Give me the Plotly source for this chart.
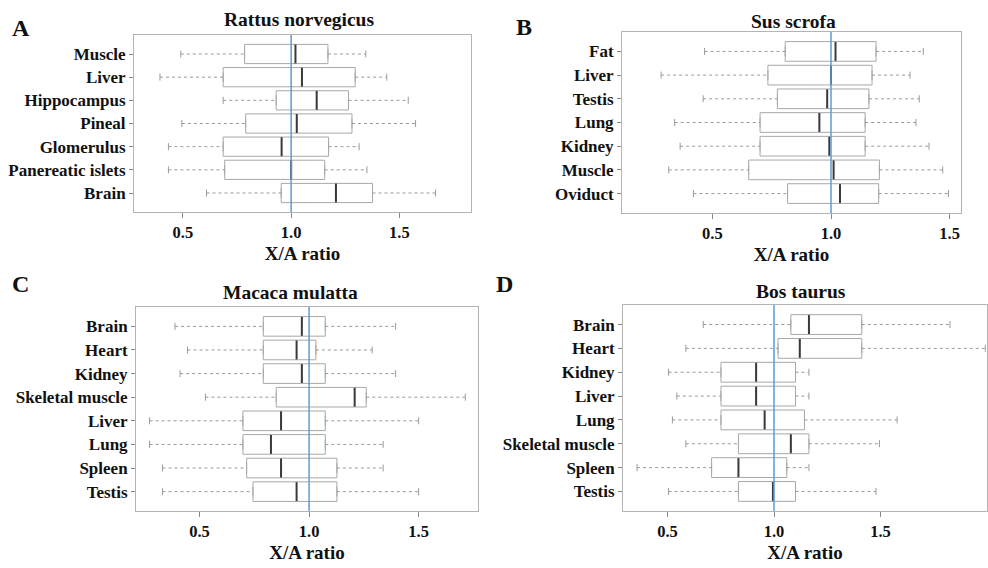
import plotly.graph_objects as go

# ---------------- data ----------------
A_title = "Rattus norvegicus"
A_cats = ["Muscle", "Liver", "Hippocampus", "Pineal", "Glomerulus", "Panereatic islets", "Brain"]
A_low = [0.49, 0.394, 0.686, 0.495, 0.433, 0.433, 0.609]
A_q1 = [0.785, 0.686, 0.931, 0.790, 0.686, 0.693, 0.954]
A_med = [1.02, 1.05, 1.118, 1.026, 0.956, 1.0, 1.207]
A_q3 = [1.17, 1.296, 1.265, 1.281, 1.173, 1.155, 1.376]
A_high = [1.345, 1.442, 1.541, 1.575, 1.314, 1.35, 1.667]

B_title = "Sus scrofa"
B_cats = ["Fat", "Liver", "Testis", "Lung", "Kidney", "Muscle", "Oviduct"]
B_low = [0.467, 0.284, 0.461, 0.341, 0.364, 0.316, 0.42]
B_q1 = [0.807, 0.734, 0.774, 0.701, 0.701, 0.653, 0.817]
B_med = [1.019, 1.0, 0.984, 0.951, 0.993, 1.011, 1.038]
B_q3 = [1.19, 1.173, 1.160, 1.144, 1.144, 1.204, 1.201]
B_high = [1.389, 1.333, 1.372, 1.358, 1.413, 1.471, 1.495]

C_title = "Macaca mulatta"
C_cats = ["Brain", "Heart", "Kidney", "Skeletal muscle", "Liver", "Lung", "Spleen", "Testis"]
C_low = [0.388, 0.445, 0.411, 0.527, 0.272, 0.272, 0.331, 0.331]
C_q1 = [0.791, 0.791, 0.791, 0.85, 0.698, 0.698, 0.715, 0.744]
C_med = [0.967, 0.943, 0.967, 1.208, 0.872, 0.826, 0.872, 0.943]
C_q3 = [1.074, 1.031, 1.074, 1.261, 1.074, 1.074, 1.127, 1.127]
C_high = [1.395, 1.288, 1.395, 1.713, 1.5, 1.338, 1.338, 1.5]

D_title = "Bos taurus"
D_cats = ["Brain", "Heart", "Kidney", "Liver", "Lung", "Skeletal muscle", "Spleen", "Testis"]
D_low = [0.668, 0.586, 0.505, 0.544, 0.523, 0.586, 0.357, 0.505]
D_q1 = [1.079, 1.019, 0.751, 0.751, 0.751, 0.833, 0.707, 0.833]
D_med = [1.164, 1.121, 0.916, 0.916, 0.956, 1.079, 0.833, 0.995]
D_q3 = [1.412, 1.412, 1.101, 1.101, 1.143, 1.164, 1.060, 1.101]
D_high = [1.826, 1.992, 1.164, 1.164, 1.578, 1.495, 1.164, 1.479]

tick_vals = [0.5, 1.0, 1.5]
ref_value = 1.0
x_label = "X/A ratio"
panel_letters = ["A", "B", "C", "D"]

# ---------------- layout geometry ----------------
W, H = 988, 568
panels = [
    dict(title=A_title, cats=A_cats, low=A_low, q1=A_q1, med=A_med, q3=A_q3, high=A_high,
         px=(134, 471), py=(35, 212), xr=[0.274, 1.831], tx=299, ty=19, lx=21, ly=28),
    dict(title=B_title, cats=B_cats, low=B_low, q1=B_q1, med=B_med, q3=B_q3, high=B_high,
         px=(622, 961), py=(32, 213), xr=[0.119, 1.548], tx=793, ty=21, lx=524, ly=27),
    dict(title=C_title, cats=C_cats, low=C_low, q1=C_q1, med=C_med, q3=C_q3, high=C_high,
         px=(136, 478), py=(307, 511), xr=[0.21, 1.771], tx=290, ty=292, lx=20, ly=284),
    dict(title=D_title, cats=D_cats, low=D_low, q1=D_q1, med=D_med, q3=D_q3, high=D_high,
         px=(623, 987), py=(305, 511), xr=[0.291, 2.0], tx=801, ty=291, lx=505, ly=284),
]

SERIF = "Liberation Serif, Times New Roman, serif"
BOX_LINE = "#a8a8a8"
WHISK = "#9a9a9a"
MED = "#3a3a3a"
BLUE = "#5b9bd5"

fig = go.Figure()
annotations = []
shapes = []
layout_axes = {}

for i, p in enumerate(panels):
    k = "" if i == 0 else str(i + 1)
    xa, ya = "x" + k, "y" + k
    n = len(p["cats"])
    # box
    fig.add_trace(go.Box(
        y=p["cats"], q1=p["q1"], median=p["med"], q3=p["q3"],
        lowerfence=p["q1"], upperfence=p["q3"],
        orientation="h", width=0.83, fillcolor="white",
        line=dict(color=BOX_LINE, width=1), boxpoints=False,
        xaxis=xa, yaxis=ya, showlegend=False, hoverinfo="skip"))
    # whiskers (dotted)
    wx, wy = [], []
    for c, lo, q1, q3, hi in zip(p["cats"], p["low"], p["q1"], p["q3"], p["high"]):
        wx += [lo, q1, None, q3, hi, None]
        wy += [c, c, None, c, c, None]
    fig.add_trace(go.Scatter(x=wx, y=wy, mode="lines",
                             line=dict(color=WHISK, width=1, dash="dot"),
                             xaxis=xa, yaxis=ya, showlegend=False, hoverinfo="skip"))
    # whisker caps
    fig.add_trace(go.Scatter(x=p["low"] + p["high"], y=p["cats"] + p["cats"], mode="markers",
                             marker=dict(symbol="line-ns", size=5, line=dict(color=WHISK, width=1)),
                             xaxis=xa, yaxis=ya, showlegend=False, hoverinfo="skip"))
    # medians
    fig.add_trace(go.Scatter(x=p["med"], y=p["cats"], mode="markers",
                             marker=dict(symbol="line-ns", size=13.5, line=dict(color=MED, width=2)),
                             xaxis=xa, yaxis=ya, showlegend=False, hoverinfo="skip"))
    # reference line
    shapes.append(dict(type="line", xref=xa, yref=ya + " domain", x0=ref_value, x1=ref_value,
                       y0=0, y1=1, line=dict(color=BLUE, width=1.5), layer="above"))

    x0, x1 = p["px"]
    y0, y1 = p["py"]
    layout_axes["xaxis" + k] = dict(
        domain=[x0 / W, x1 / W], anchor=ya, range=p["xr"],
        tickvals=tick_vals, tickformat=".1f", ticks="outside", ticklen=5, tickcolor="#888",
        showgrid=False, zeroline=False, showline=True, linecolor="#b4b4b4", linewidth=1, mirror=True,
        tickfont=dict(family=SERIF, size=16.5, color="#111", weight="bold"),
        title=dict(text=x_label, standoff=5, font=dict(family=SERIF, size=19, color="#111", weight="bold")))
    layout_axes["yaxis" + k] = dict(
        domain=[1 - y1 / H, 1 - y0 / H], anchor=xa,
        type="category", categoryorder="array", categoryarray=p["cats"],
        range=[n - 1 + 0.82, -0.82],
        ticks="outside", ticklen=4, tickcolor="#888",
        showgrid=False, zeroline=False, showline=True, linecolor="#b4b4b4", linewidth=1, mirror=True,
        tickfont=dict(family=SERIF, size=17, color="#111", weight="bold"))
    annotations.append(dict(text=p["title"], xref="paper", yref="paper",
                            x=p["tx"] / W, y=1 - p["ty"] / H, showarrow=False,
                            xanchor="center", yanchor="middle",
                            font=dict(family=SERIF, size=19.5, color="#111", weight="bold")))
    annotations.append(dict(text=panel_letters[i], xref="paper", yref="paper",
                            x=p["lx"] / W, y=1 - p["ly"] / H, showarrow=False,
                            xanchor="center", yanchor="middle",
                            font=dict(family=SERIF, size=24, color="#111", weight="bold")))

fig.update_layout(
    width=W, height=H, margin=dict(l=0, r=0, t=0, b=0),
    paper_bgcolor="white", plot_bgcolor="white",
    annotations=annotations, shapes=shapes, **layout_axes)

fig.write_html("out.html")
